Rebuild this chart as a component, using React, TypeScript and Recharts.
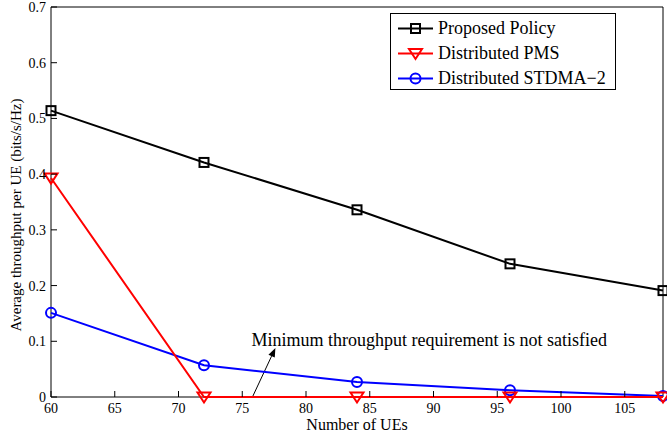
import { Legend, Line, LineChart, ReferenceLine, XAxis, YAxis } from 'recharts';

const ues = [60, 72, 84, 96, 108];
const proposedPolicy = [0.514, 0.421, 0.336, 0.239, 0.191];
const distributedPms = [0.393, 0, 0, 0, 0];
const distributedStdma2 = [0.151, 0.057, 0.027, 0.012, 0.002];
const xTicks = [60, 65, 70, 75, 80, 85, 90, 95, 100, 105];
const yTicks = [0, 0.1, 0.2, 0.3, 0.4, 0.5, 0.6, 0.7];
const noteArrow = [
  { x: 75.8, y: 0 },
  { x: 77.6, y: 0.088 },
];
const noteText = 'Minimum throughput requirement is not satisfied';

const legendItems = [
  { name: 'Proposed Policy', color: '#000000', marker: 'square' },
  { name: 'Distributed PMS', color: '#ff0000', marker: 'triangle' },
  { name: 'Distributed STDMA\u22122', color: '#0000ff', marker: 'circle' },
];

const data = ues.map((ue, i) => ({
  ue,
  proposed: proposedPolicy[i],
  pms: distributedPms[i],
  stdma: distributedStdma2[i],
}));

const FONT = '"Liberation Serif", "Times New Roman", serif';

function Marker({ kind, cx, cy, color }: { kind: string; cx: number; cy: number; color: string }) {
  if (kind === 'square') {
    return <rect x={cx - 4.5} y={cy - 4.5} width={9} height={9} fill="none" stroke={color} strokeWidth={2} />;
  }
  if (kind === 'triangle') {
    return (
      <polygon
        points={`${cx - 6.5},${cy - 4.5} ${cx + 6.5},${cy - 4.5} ${cx},${cy + 5.5}`}
        fill="none"
        stroke={color}
        strokeWidth={2}
      />
    );
  }
  return <circle cx={cx} cy={cy} r={5} fill="none" stroke={color} strokeWidth={2} />;
}

const dotFor = (kind: string, color: string) => (p: any) =>
  <Marker key={`${kind}-${p.index}`} kind={kind} cx={p.cx} cy={p.cy} color={color} />;

// ticks point inward, like the matlab box axes
function BottomTick({ x, y, payload }: any) {
  return (
    <g>
      <line x1={x} y1={y} x2={x} y2={y - 6} stroke="#000" />
      <text x={x} y={y + 16} textAnchor="middle" fontSize={14} fontFamily={FONT} fill="#000">
        {payload.value}
      </text>
    </g>
  );
}

function TopTick({ x, y }: any) {
  return <line x1={x} y1={y} x2={x} y2={y + 6} stroke="#000" />;
}

function LeftTick({ x, y, payload }: any) {
  return (
    <g>
      <line x1={x} y1={y} x2={x + 6} y2={y} stroke="#000" />
      <text x={x - 5} y={y + 5} textAnchor="end" fontSize={14} fontFamily={FONT} fill="#000">
        {payload.value}
      </text>
    </g>
  );
}

function RightTick({ x, y }: any) {
  return <line x1={x} y1={y} x2={x - 6} y2={y} stroke="#000" />;
}

function YLabel({ viewBox }: any) {
  const cy = viewBox.y + viewBox.height / 2 + 13;
  const lx = 21;
  return (
    <text
      x={lx}
      y={cy}
      transform={`rotate(-90 ${lx} ${cy})`}
      textAnchor="middle"
      fontSize={15}
      fontFamily={FONT}
      fill="#000"
    >
      Average throughput per UE (bits/s/Hz)
    </text>
  );
}

function XLabel({ viewBox }: any) {
  const cx = viewBox.x + viewBox.width / 2;
  return (
    <text x={cx} y={430} textAnchor="middle" fontSize={16} fontFamily={FONT} fill="#000">
      Number of UEs
    </text>
  );
}

function NoteArrow({ x1, y1, x2, y2 }: any) {
  const ang = Math.atan2(y2 - y1, x2 - x1);
  const len = 9;
  const w = 3.5;
  const bx = x2 - len * Math.cos(ang);
  const by = y2 - len * Math.sin(ang);
  const px = -Math.sin(ang) * w;
  const py = Math.cos(ang) * w;
  return (
    <g>
      <line x1={x1} y1={y1} x2={bx} y2={by} stroke="#000" strokeWidth={1} />
      <polygon points={`${x2},${y2} ${bx + px},${by + py} ${bx - px},${by - py}`} fill="#000" />
      <text x={x1 - 1} y={y2 - 2} fontSize={18} fontFamily={FONT} fill="#000">
        {noteText}
      </text>
    </g>
  );
}

function LegendBox() {
  return (
    <div
      style={{
        width: 226,
        height: 77,
        boxSizing: 'border-box',
        border: '1px solid #000',
        background: '#fff',
        paddingTop: 2,
        fontFamily: FONT,
        fontSize: 18,
        color: '#000',
      }}
    >
      {legendItems.map((item) => (
        <div key={item.name} style={{ display: 'flex', alignItems: 'center', height: 25 }}>
          <svg width={47} height={25} style={{ flex: 'none' }}>
            <line x1={7} y1={12.5} x2={42} y2={12.5} stroke={item.color} strokeWidth={2} />
            <Marker kind={item.marker} cx={24.5} cy={12.5} color={item.color} />
          </svg>
          <span style={{ whiteSpace: 'nowrap', lineHeight: '25px' }}>{item.name}</span>
        </div>
      ))}
    </div>
  );
}

export default function App() {
  return (
    <div style={{ position: 'absolute', left: 0, top: 0, background: '#fff' }}>
      <LineChart width={667} height={437} data={data} margin={{ top: 6, right: 3, left: 50, bottom: 39 }}>
        <XAxis
          dataKey="ue"
          type="number"
          domain={[60, 108]}
          ticks={xTicks}
          interval={0}
          height={1}
          tickSize={0}
          tickMargin={0}
          tickLine={false}
          tick={BottomTick}
          axisLine={{ stroke: '#000' }}
          label={XLabel}
        />
        <XAxis
          xAxisId="top"
          orientation="top"
          type="number"
          domain={[60, 108]}
          ticks={xTicks}
          interval={0}
          height={1}
          tickSize={0}
          tickMargin={0}
          tickLine={false}
          tick={TopTick}
          axisLine={{ stroke: '#000' }}
        />
        <YAxis
          type="number"
          domain={[0, 0.7]}
          ticks={yTicks}
          interval={0}
          width={1}
          tickSize={0}
          tickMargin={0}
          tickLine={false}
          tick={LeftTick}
          axisLine={{ stroke: '#000' }}
          label={YLabel}
        />
        <YAxis
          yAxisId="right"
          orientation="right"
          type="number"
          domain={[0, 0.7]}
          ticks={yTicks}
          interval={0}
          width={1}
          tickSize={0}
          tickMargin={0}
          tickLine={false}
          tick={RightTick}
          axisLine={{ stroke: '#000' }}
        />
        <Line
          dataKey="stdma"
          stroke="#0000ff"
          strokeWidth={2}
          dot={dotFor('circle', '#0000ff')}
          zIndex={600}
          isAnimationActive={false}
        />
        <Line
          dataKey="pms"
          stroke="#ff0000"
          strokeWidth={2}
          dot={dotFor('triangle', '#ff0000')}
          zIndex={610}
          isAnimationActive={false}
        />
        <Line
          dataKey="proposed"
          stroke="#000000"
          strokeWidth={2}
          dot={dotFor('square', '#000000')}
          zIndex={620}
          isAnimationActive={false}
        />
        <ReferenceLine segment={noteArrow} ifOverflow="visible" shape={NoteArrow} />
        <Legend
          layout="vertical"
          align="center"
          verticalAlign="middle"
          content={LegendBox}
          wrapperStyle={{ left: 390, top: 13, width: 226, height: 77 }}
        />
      </LineChart>
    </div>
  );
}
